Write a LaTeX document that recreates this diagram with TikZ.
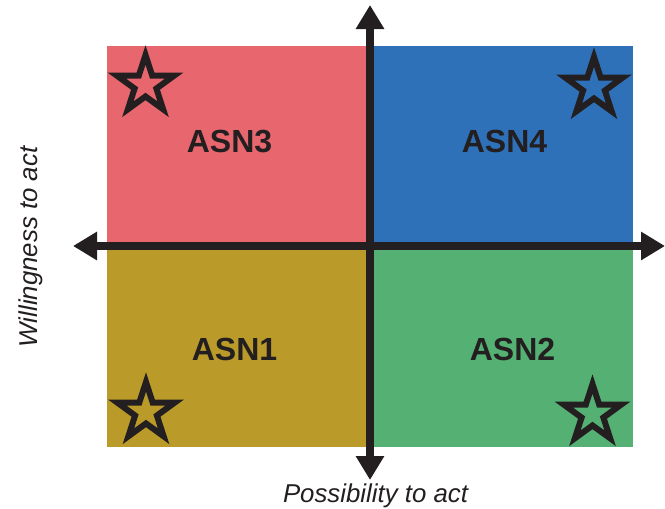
\documentclass[tikz,border=0pt]{standalone}
\usepackage{fontspec}
\setmainfont{Liberation Sans}
\usetikzlibrary{arrows.meta,shapes.geometric}

\definecolor{asnred}{HTML}{E8676F}
\definecolor{asnblue}{HTML}{2E71B8}
\definecolor{asngold}{HTML}{BA9A29}
\definecolor{asngreen}{HTML}{55B073}
\definecolor{inkdark}{HTML}{231F20}

\tikzset{
  quadrant/.style={fill=#1,draw=none},
  axis/.style={line width=8pt,draw=inkdark,
    {Triangle[length=24pt,width=27pt]}-{Triangle[length=24pt,width=27pt]}},
  starmark/.style={star,star points=5,star point ratio=2.618,minimum size=60pt,
    inner sep=0pt,draw=inkdark,line width=6pt},
  asnlabel/.style={font=\bfseries\fontsize{32}{36}\selectfont,text=inkdark},
  axislabel/.style={font=\itshape\fontsize{25.8}{30}\selectfont,text=inkdark}
}

\begin{document}
\begin{tikzpicture}[x=1pt,y=-1pt]
  \useasboundingbox (0,0) rectangle (665,509);

  % cadrane
  \fill[quadrant=asnred]   (107,46)  rectangle (370,246);
  \fill[quadrant=asnblue]  (370,46)  rectangle (633,246);
  \fill[quadrant=asngold]  (107,246) rectangle (370,447);
  \fill[quadrant=asngreen] (370,246) rectangle (633,447);

  % etichete cadrane
  \node[asnlabel] (asn3) at (229.5,141.5) {ASN3};
  \node[asnlabel] (asn4) at (504.5,141.5) {ASN4};
  \node[asnlabel] (asn1) at (234.5,349) {ASN1};
  \node[asnlabel] (asn2) at (512.5,349) {ASN2};

  % stele
  \node[starmark] (star3) at (145.5,85) {};
  \node[starmark] (star4) at (594,87) {};
  \node[starmark] (star1) at (146,412) {};
  \node[starmark] (star2) at (592.5,414) {};

  % axe
  \coordinate (west)  at (73,246);
  \coordinate (east)  at (665,246);
  \coordinate (north) at (370,5);
  \coordinate (south) at (370,480);
  \draw[axis] (west) -- (east);
  \draw[axis] (south) -- (north);

  % titluri axe
  \node[axislabel,anchor=base] (possib) at (375.5,502) {Possibility to act};
  \node[axislabel,rotate=90] (willing) at (31,247) {Willingness to act};
\end{tikzpicture}
\end{document}
